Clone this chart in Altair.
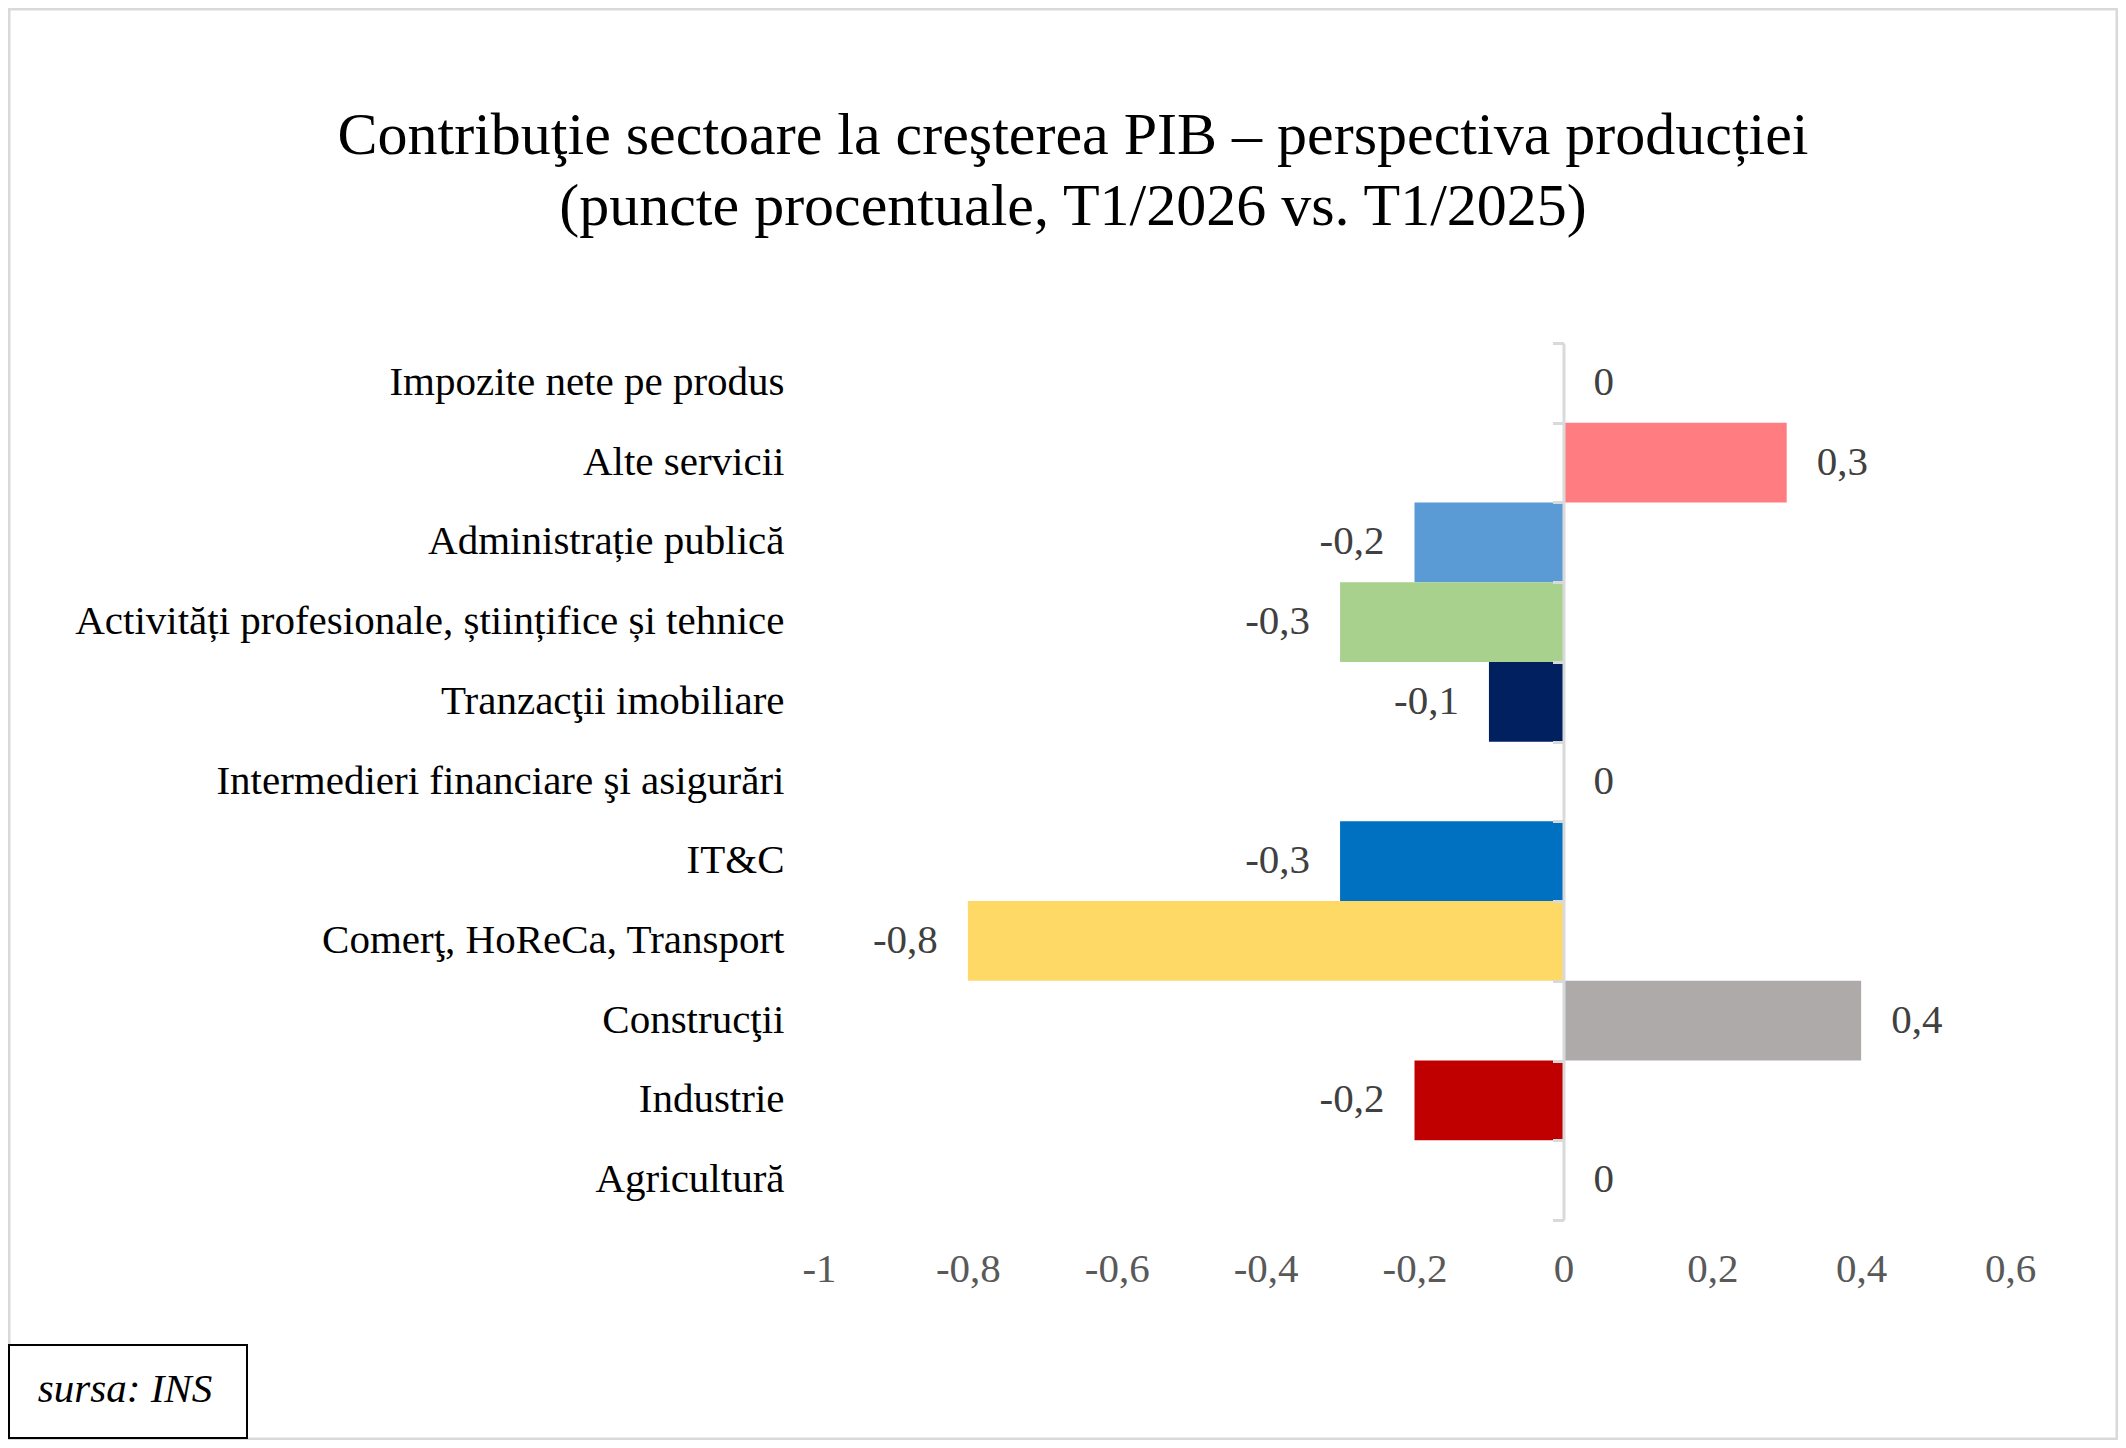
import altair as alt
import pandas as pd

sectoare = [
    "Impozite nete pe produs",
    "Alte servicii",
    "Administrație publică",
    "Activități profesionale, științifice și tehnice",
    "Tranzacţii imobiliare",
    "Intermedieri financiare şi asigurări",
    "IT&C",
    "Comerţ, HoReCa, Transport",
    "Construcţii",
    "Industrie",
    "Agricultură",
]
valori = [0, 0.3, -0.2, -0.3, -0.1, 0, -0.3, -0.8, 0.4, -0.2, 0]
culori = ["#FFFFFF", "#FF7C80", "#5B9BD5", "#A9D18E", "#002060", "#FFFFFF",
          "#0070C0", "#FFD966", "#AEAAAA", "#C00000", "#FFFFFF"]
x_ticks = [-1, -0.8, -0.6, -0.4, -0.2, 0, 0.2, 0.4, 0.6]
titlu = ["Contribuţie sectoare la creşterea PIB – perspectiva producției",
         "(puncte procentuale, T1/2026 vs. T1/2025)"]

df = pd.DataFrame({
    "sector": sectoare,
    "valoare": valori,
    "eticheta": [str(v).replace(".", ",") for v in valori],
})

FONT = "Liberation Serif"
W, H = 1191, 877

y_scale = alt.Scale(domain=sectoare, paddingInner=0, paddingOuter=0)

x_enc = alt.X(
    "valoare:Q",
    scale=alt.Scale(domain=[-1, 0.6], nice=False),
    axis=alt.Axis(
        values=x_ticks, title=None, domain=False, ticks=False, tickSize=0, grid=False,
        labelExpr="replace(toString(round(datum.value * 10) / 10), '.', ',')",
        labelFont=FONT, labelFontSize=41, labelColor="#595959", labelPadding=29,
        labelFlush=False,
    ),
)

bars = alt.Chart(df).mark_bar().encode(
    x=x_enc,
    y=alt.Y("sector:N", sort=sectoare, scale=y_scale, axis=alt.Axis(
        title=None, domain=False, ticks=False, grid=False, labelFont=FONT,
        labelFontSize=41, labelColor="black", labelPadding=35, labelLimit=900,
    )),
    color=alt.Color("sector:N", scale=alt.Scale(domain=sectoare, range=culori), legend=None),
)

lab_pos = alt.Chart(df).transform_filter("datum.valoare >= 0").mark_text(
    align="left", dx=30, font=FONT, fontSize=41, color="#404040"
).encode(
    x=alt.X("valoare:Q"),
    y=alt.Y("sector:N", sort=sectoare, scale=y_scale, axis=None),
    text="eticheta:N",
)

lab_neg = alt.Chart(df).transform_filter("datum.valoare < 0").mark_text(
    align="right", dx=-30, font=FONT, fontSize=41, color="#404040"
).encode(
    x=alt.X("valoare:Q"),
    y=alt.Y("sector:N", sort=sectoare, scale=y_scale, axis=None),
    text="eticheta:N",
)

# axa verticala la zero, cu diviziuni intre categorii
zero_axis = alt.Chart(df).mark_tick(opacity=0).encode(
    x=alt.X("valoare:Q"),
    y=alt.Y("sector:N", sort=sectoare, scale=y_scale, axis=alt.Axis(
        orient="left", offset=-744.5, title=None, labels=False, grid=False,
        domain=True, domainColor="#D9D9D9", domainWidth=3,
        ticks=True, tickBand="extent", tickColor="#D9D9D9", tickWidth=3, tickSize=11,
        zindex=1,
    )),
)

note_df = pd.DataFrame({"t": ["sursa: INS"], "t1": [titlu[0]], "t2": [titlu[1]]})

title1 = alt.Chart(note_df).mark_text(
    font=FONT, fontSize=60, color="black", baseline="alphabetic", align="center"
).encode(x=alt.value(254), y=alt.value(-189), text="t1:N")

title2 = alt.Chart(note_df).mark_text(
    font=FONT, fontSize=60, color="black", baseline="alphabetic", align="center"
).encode(x=alt.value(254), y=alt.value(-118), text="t2:N")

frame = alt.Chart(note_df).mark_rect(
    fill="white", fillOpacity=0, stroke="#D9D9D9", strokeWidth=3
).encode(x=alt.value(-810), x2=alt.value(1298), y=alt.value(-334), y2=alt.value(1096))

sursa_box = alt.Chart(note_df).mark_rect(
    fill="white", stroke="black", strokeWidth=2
).encode(x=alt.value(-810), x2=alt.value(-572), y=alt.value(1002), y2=alt.value(1095))

sursa_text = alt.Chart(note_df).mark_text(
    font=FONT, fontSize=41, fontStyle="italic", color="black", baseline="middle"
).encode(x=alt.value(-694), y=alt.value(1047), text="t:N")

chart = alt.layer(
    frame, title1, title2, bars, lab_pos, lab_neg, zero_axis, sursa_box, sursa_text
).resolve_axis(y="independent").properties(
    width=W,
    height=H,
    padding={"left": 811, "top": 335, "right": 108, "bottom": 220},
    autosize=alt.AutoSizeParams(type="none"),
).configure_view(stroke=None)

chart.save("out.html", embed_options={"renderer": "svg", "actions": False})
